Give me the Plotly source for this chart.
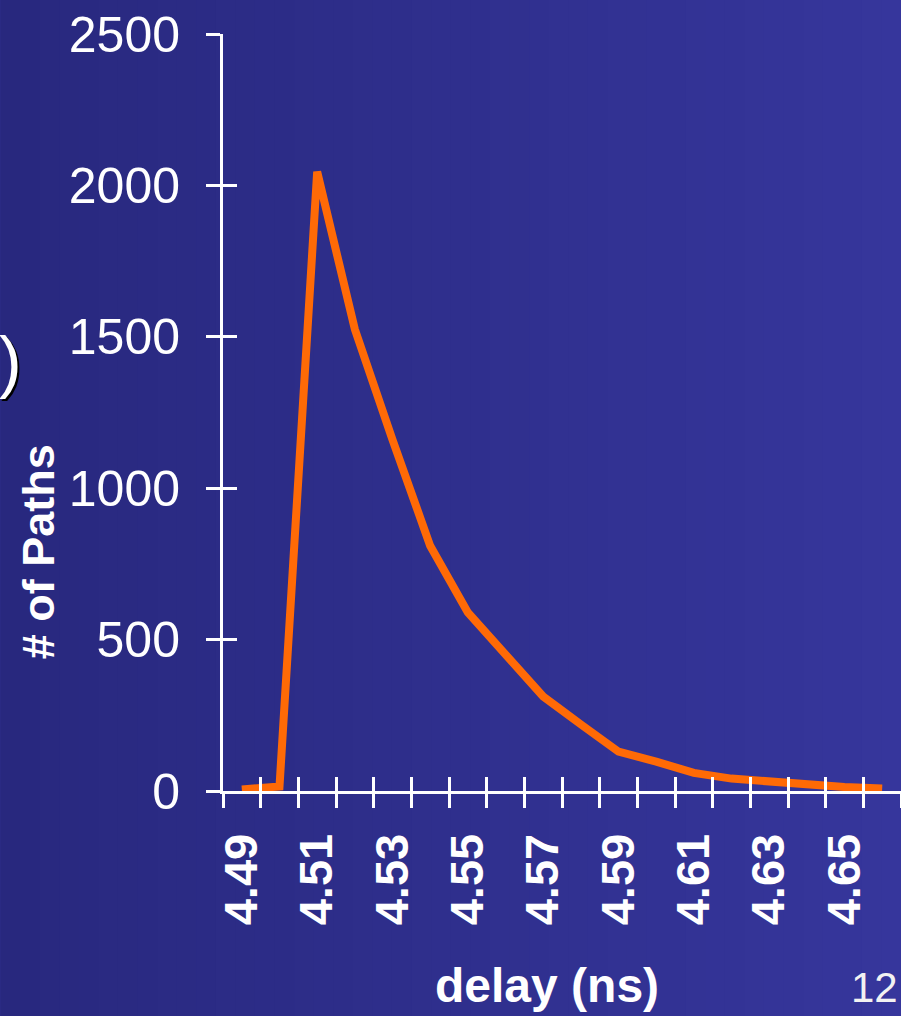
import plotly.graph_objects as go

# ---- data ----
delay_ns = [4.49, 4.50, 4.51, 4.52, 4.53, 4.54, 4.55, 4.56, 4.57,
            4.58, 4.59, 4.60, 4.61, 4.62, 4.63, 4.64, 4.65, 4.66]
num_paths = [5, 15, 2045, 1525, 1160, 810, 590, 450, 312,
             220, 130, 97, 60, 41, 31, 23, 13, 8]
x_tick_labels = ["4.49", "4.51", "4.53", "4.55", "4.57", "4.59", "4.61", "4.63", "4.65"]
y_tick_values = [0, 500, 1000, 1500, 2000, 2500]

W, H = 901, 1016
L, R, T, B = 222.7, 0, 33.5, 224.5
pw, ph = W - L - R, H - T - B

def px_x(x):
    return (x - L) / pw

def px_y(y):
    return (H - B - y) / ph

FONT = "Arial"
WHITE = "#ffffff"

half = 0.005
x_range = [delay_ns[0] - half, delay_ns[-1] + half]
boundaries = [round(v - half, 4) for v in delay_ns] + [round(delay_ns[-1] + half, 4)]
label_vals = [float(t) for t in x_tick_labels]

fig = go.Figure()
fig.add_trace(go.Scatter(
    x=delay_ns, y=num_paths, mode="lines",
    line=dict(color="#ff6a06", width=8),
    hoverinfo="skip", showlegend=False,
))

# gradient background strips
shapes = []
n = 46
c0 = (40, 40, 126)
c1 = (54, 54, 156)
for i in range(n):
    x0 = i * W / n
    x1 = (i + 1) * W / n + 1
    t = (i + 0.5) / n
    col = tuple(round(c0[k] + (c1[k] - c0[k]) * t) for k in range(3))
    shapes.append(dict(
        type="rect", xref="paper", yref="paper", layer="below",
        x0=px_x(x0), x1=px_x(x1), y0=px_y(H + 2), y1=px_y(-2),
        fillcolor="rgb(%d,%d,%d)" % col, line=dict(width=0),
    ))

fig.update_layout(
    width=W, height=H,
    margin=dict(l=L, r=R, t=T, b=B, pad=0),
    paper_bgcolor="rgb(47,47,141)",
    plot_bgcolor="rgba(0,0,0,0)",
    showlegend=False,
    shapes=shapes,
    xaxis=dict(
        range=x_range, tickmode="array", tickvals=label_vals, ticktext=x_tick_labels,
        ticks="outside", ticklen=14, tickcolor="rgba(0,0,0,0)",
        tickangle=-90, ticklabelstandoff=7,
        tickfont=dict(family=FONT, size=47, color=WHITE, weight="bold"),
        showline=True, linecolor=WHITE, linewidth=3,
        showgrid=False, zeroline=False,
        minor=dict(tickmode="array", tickvals=boundaries, ticks="outside",
                   ticklen=14, tickcolor=WHITE, tickwidth=2.5, showgrid=False),
    ),
    xaxis2=dict(
        overlaying="x", anchor="y", side="bottom", range=x_range,
        tickmode="array", tickvals=boundaries, ticks="inside", ticklen=14,
        tickcolor=WHITE, tickwidth=2.5, showticklabels=False,
        showline=False, showgrid=False, zeroline=False,
    ),
    yaxis=dict(
        range=[0, 2500], tickmode="array", tickvals=y_tick_values,
        ticks="outside", ticklen=14, tickcolor=WHITE, tickwidth=2.5,
        ticklabelstandoff=16,
        tickfont=dict(family=FONT, size=50, color=WHITE),
        showline=True, linecolor=WHITE, linewidth=3,
        showgrid=False, zeroline=False,
    ),
    yaxis2=dict(
        overlaying="y", anchor="x", side="left", range=[0, 2500],
        tickmode="array", tickvals=y_tick_values, ticks="inside", ticklen=14,
        tickcolor=WHITE, tickwidth=2.5, showticklabels=False,
        showline=False, showgrid=False, zeroline=False,
    ),
    annotations=[
        dict(text="# of Paths", xref="paper", yref="paper",
             x=px_x(38), y=px_y(552), xanchor="center", yanchor="middle",
             textangle=-90, showarrow=False,
             font=dict(family=FONT, size=45, color=WHITE, weight="bold")),
        dict(text="delay (ns)", xref="paper", yref="paper",
             x=px_x(547), y=px_y(986), xanchor="center", yanchor="middle",
             showarrow=False,
             font=dict(family=FONT, size=48, color=WHITE, weight="bold")),
        dict(text="12", xref="paper", yref="paper",
             x=px_x(900), y=px_y(988), xanchor="right", yanchor="middle",
             showarrow=False,
             font=dict(family=FONT, size=42, color="#f2f2f2")),
        dict(text=")", xref="paper", yref="paper",
             x=px_x(24), y=px_y(361), xanchor="right", yanchor="middle",
             showarrow=False,
             font=dict(family=FONT, size=68, color=WHITE,
                       shadow="2px 2px 0px #000000")),
    ],
)

# overlay axes carry the crossing half of each tick; give them the same series invisibly
fig.add_trace(go.Scatter(x=delay_ns, y=num_paths, xaxis="x2", yaxis="y2",
                         mode="lines", line=dict(width=0, color="rgba(0,0,0,0)"),
                         hoverinfo="skip", showlegend=False))

fig.write_html(
    "out.html",
    config={"displayModeBar": False},
    post_script="document.body.style.margin='0';document.body.style.overflow='hidden';",
)
